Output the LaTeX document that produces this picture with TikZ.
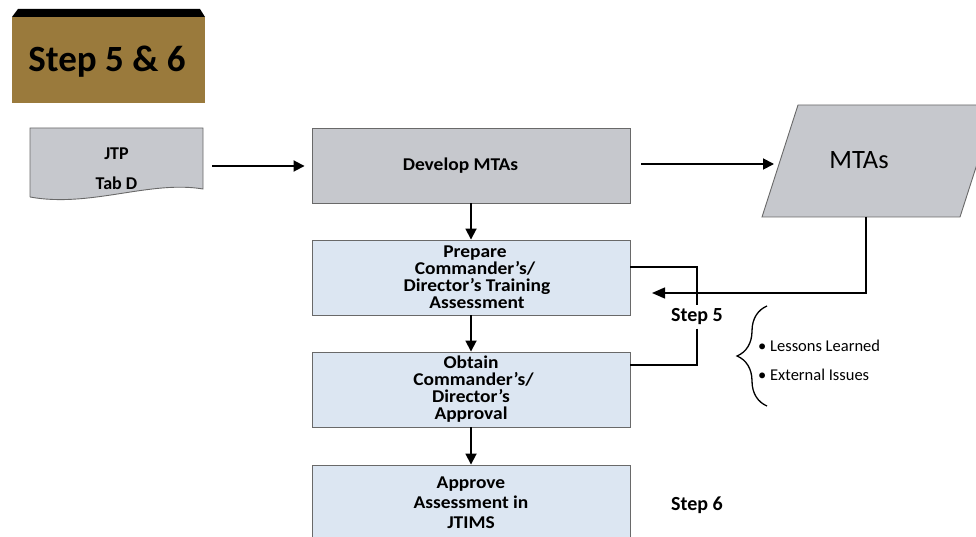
\documentclass[tikz,border=0pt]{standalone}
\usepackage{fontspec}
\setmainfont{Carlito}
\newfontfamily\widefont[FakeStretch=1.08]{Carlito}
\usetikzlibrary{arrows.meta,decorations.pathreplacing}

\definecolor{stepbrown}{RGB}{154,122,60}
\definecolor{boxgray}{RGB}{198,200,205}
\definecolor{boxblue}{RGB}{220,230,242}
\definecolor{boxline}{RGB}{105,105,105}

\tikzset{
	stepbox/.style={draw=boxline, line width=0.9pt, fill=boxblue, minimum width=318pt, minimum height=75pt, inner sep=0pt, align=center, font=\widefont\bfseries\fontsize{18}{17}\selectfont},
	flow/.style={line width=1.8pt, -{Triangle[length=11pt,width=11pt]}},
	loopline/.style={line width=1.4pt},
	steplabel/.style={font=\bfseries\fontsize{20}{22}\selectfont},
	bulletitem/.style={anchor=west, inner sep=0pt, font=\fontsize{16.5}{18}\selectfont}
}

\begin{document}
\begin{tikzpicture}[x=1pt, y=-1pt]
			%%%%% START %%%%%
			\useasboundingbox (0, 0) rectangle (976, 537);
			
			% title block
			\fill[black] (12, 17) -- (18, 9) -- (200, 9) -- (205, 17) -- cycle;
			\fill[stepbrown] (12, 17) rectangle (205, 103);
			\node[font=\bfseries\fontsize{37}{40}\selectfont] (title) at (107, 62) {Step 5 \& 6};
			
			% JTP document
			\draw[draw=boxline, line width=0.9pt, fill=boxgray] (30, 197) -- (30, 128) -- (203, 128) -- (203, 189)
				.. controls (150, 180) and (90, 208) .. (30, 197);
			\node[minimum width=173pt, minimum height=76pt, align=center, font=\bfseries\fontsize{18}{30}\selectfont] (jtp) at (116.5, 166) {};
			\node[font=\bfseries\fontsize{18}{30}\selectfont, align=center] (jtptext) at (116.5, 169) {JTP\\Tab D};
			
			% main column
			\node[stepbox, fill=boxgray] (dev) at (471, 165.5) {Develop MTAs\hspace*{21pt}};
			\node[stepbox] (prep) at (471, 277.5) {\hspace*{8pt}Prepare\\\hspace*{8pt}Commander’s/\\\hspace*{12pt}Director’s Training\\\hspace*{12pt}Assessment};
			\node[stepbox] (obt) at (471, 389.5) {Obtain\\\hspace*{5pt}Commander’s/\\Director’s\\Approval};
			\node[stepbox, font=\widefont\bfseries\fontsize{18}{20}\selectfont] (appr) at (471, 502.5) {Approve\\Assessment in\\JTIMS};
			
			% MTAs output
			\draw[draw=boxline, line width=0.9pt, fill=boxgray] (762, 217) -- (798, 105) -- (996, 105) -- (960, 217) -- cycle;
			\node[font=\fontsize{26.5}{30}\selectfont] (mtas) at (859, 160) {MTAs};
			\coordinate (mtasin) at (774, 164);
			\coordinate (mtasout) at (866, 217);
			\coordinate (back) at (652, 293);
			
			\draw[flow, shorten <=9pt, shorten >=7pt] (jtp.east) -- (dev.west |- jtp.east);
			\draw[flow, shorten <=11pt] (dev.east |- mtasin) -- (mtasin);
			\draw[flow] (dev) -- (prep);
			\draw[flow] (prep) -- (obt);
			\draw[flow] (obt) -- (appr);
			\draw[loopline, -{Triangle[length=13pt,width=11pt]}] (mtasout) |- (back);
			
			% step 5 loop
			\node[steplabel] (step5) at (697, 317) {Step 5};
			\draw[loopline] ([yshift=10.5pt]prep.east) -| (step5.north);
			\draw[loopline] (step5.south) |- ([yshift=24.5pt]obt.east);
			
			\draw[line width=1.3pt, decorate, decoration={brace, amplitude=30pt}] (767, 406) -- (767, 306);
			\node[bulletitem] (lessons) at (758, 346) {•\ Lessons Learned};
			\node[bulletitem] (issues) at (758, 375) {•\ External Issues};
			
			\node[steplabel] (step6) at (697, 505) {Step 6};
			%%%%% END %%%%%
\end{tikzpicture}
\end{document}
